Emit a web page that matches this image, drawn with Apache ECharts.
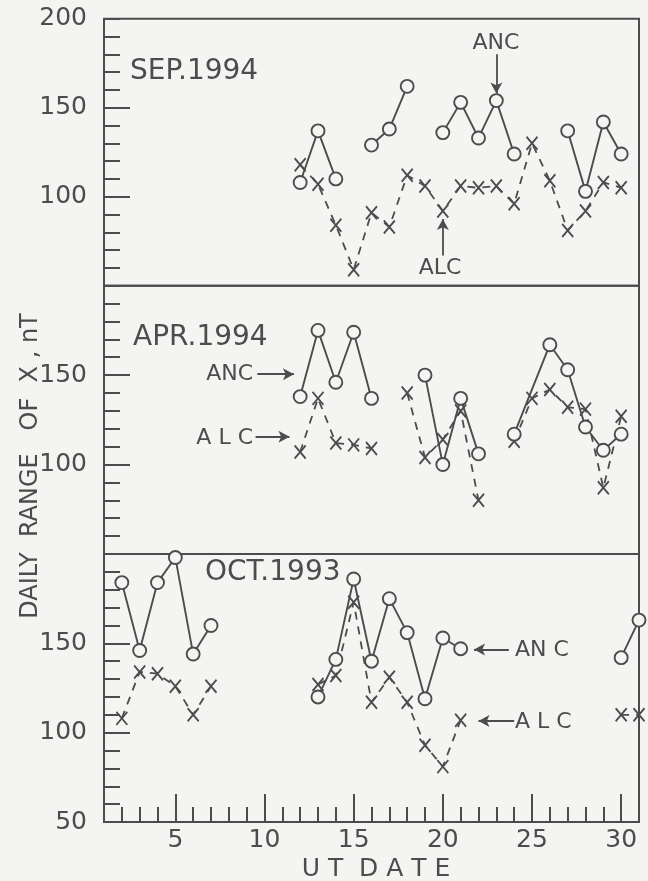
<!DOCTYPE html>
<html>
<head>
<meta charset="utf-8">
<script src="https://cdn.jsdelivr.net/npm/echarts@6/dist/echarts.min.js"></script>
<style>
html,body{margin:0;padding:0;background:#f4f4f2;}
#chart{width:648px;height:881px;}
</style>
</head>
<body>
<div id="chart"></div>
<script>
// ---- data (UT day, daily range of X in nT); null = break in the curve ----
const sepAncDays = [12,13,14,15,16,17,18,19,20,21,22,23,24,25,27,28,29,30];
const sepAncVals = [108,137,110,null,129,138,162,null,136,153,133,154,124,null,137,103,142,124];
const sepAlcDays = [12,13,14,15,16,17,18,19,20,21,22,23,24,25,26,27,28,29,30];
const sepAlcVals = [118,107,84,59,91,83,112,106,92,106,105,106,96,130,109,81,92,108,105];

const aprAncDays = [12,13,14,15,16,17,19,20,21,22,23,24,26,27,28,29,30];
const aprAncVals = [138,175,146,174,137,null,150,100,137,106,null,117,167,153,121,108,117];
const aprAlcDays = [12,13,14,15,16,17,18,19,20,21,22,23,24,25,26,27,28,29,30];
const aprAlcVals = [107,137,112,111,109,null,140,104,114,130,80,null,113,137,142,132,131,87,127];

const octAncDays = [2,3,4,5,6,7,8,13,14,15,16,17,18,19,20,21,22,30,31];
const octAncVals = [184,146,184,198,144,160,null,120,141,186,140,175,156,119,153,147,null,142,163];
const octAlcDays = [2,3,4,5,6,7,8,13,14,15,16,17,18,19,20,21,22,30,31];
const octAlcVals = [108,134,133,126,110,126,null,127,132,173,117,131,117,93,81,107,null,110,110];

const panelTitles = ['SEP.1994','APR.1994','OCT.1993'];
const yLabelValues = [[100,150,200],[100,150],[50,100,150]];
const yMajorTicks = [100,150];
const xLabelValues = [5,10,15,20,25,30];

// ---- styling ----
const ink = '#4c4c4c';
const bg = '#f4f4f2';
const FONT = 'DejaVu Sans';

function pts(days, vals){ return days.map((d,i)=>[d, vals[i]==null ? '-' : vals[i]]); }

const grids = [
  {left:104, right:9, top:18.7, height:267},
  {left:104, right:9, top:285.7, height:268.3},
  {left:104, right:9, top:554, height:268}
].map(g=>Object.assign(g,{show:true, borderColor:ink, borderWidth:2, backgroundColor:'transparent'}));

const xAxes = [
  {gridIndex:0, type:'value', min:1, max:31, show:false},
  {gridIndex:1, type:'value', min:1, max:31, show:false},
  {gridIndex:2, type:'value', min:1, max:31, interval:1, position:'bottom',
   axisLine:{show:false}, splitLine:{show:false},
   axisTick:{inside:true, length:15, lineStyle:{color:ink, width:2}},
   axisLabel:{show:false}},
  {gridIndex:2, type:'value', min:1, max:31, position:'bottom',
   axisLine:{show:false}, splitLine:{show:false},
   axisTick:{inside:true, length:28, customValues:xLabelValues, lineStyle:{color:ink, width:2}},
   axisLabel:{customValues:xLabelValues, color:ink, fontSize:25, fontFamily:FONT, margin:6}}
];

const yAxes = [];
for (let p=0;p<3;p++){
  yAxes.push({gridIndex:p, type:'value', min:50, max:200, interval:10, position:'left',
    axisLine:{show:false}, splitLine:{show:false},
    axisTick:{inside:true, length:16, lineStyle:{color:ink, width:2}},
    axisLabel:{show:false}});
  yAxes.push({gridIndex:p, type:'value', min:50, max:200, position:'left',
    axisLine:{show:false}, splitLine:{show:false},
    axisTick:{inside:true, length:26, customValues:yMajorTicks, lineStyle:{color:ink, width:2}},
    axisLabel:{customValues:yLabelValues[p], color:ink, fontSize:25, fontFamily:FONT, margin:17}});
}

function anc(xi, yi, days, vals, arrows){
  const s = {type:'line', xAxisIndex:xi, yAxisIndex:yi, data:pts(days,vals),
    symbol:'circle', symbolSize:13, showAllSymbol:true, connectNulls:false, z:4,
    lineStyle:{color:ink, width:1.9},
    itemStyle:{color:bg, borderColor:ink, borderWidth:1.9},
    emphasis:{disabled:true}, silent:true};
  if (arrows) s.markLine = arrowML(arrows);
  return s;
}
function alc(xi, yi, days, vals, arrows){
  const s = {type:'line', xAxisIndex:xi, yAxisIndex:yi, data:pts(days,vals),
    symbol:'path://M0,0L10,12M10,0L0,12', symbolSize:[11,13], showAllSymbol:true, connectNulls:false, z:3,
    lineStyle:{color:ink, width:1.8, type:[8,7]},
    itemStyle:{color:'rgba(0,0,0,0)', borderColor:ink, borderWidth:1.9},
    emphasis:{disabled:true}, silent:true};
  if (arrows) s.markLine = arrowML(arrows);
  return s;
}
function arrowML(list){
  return {silent:true, symbol:['none','arrow'], symbolSize:[9,11], animation:false,
    lineStyle:{color:ink, width:1.8, type:'solid'}, label:{show:false},
    data:list.map(a=>[{coord:a[0]},{coord:a[1]}])};
}

const series = [
  anc(0,0,sepAncDays,sepAncVals,[[[23,180],[23,158]]]),
  alc(0,0,sepAlcDays,sepAlcVals,[[[20,67],[20,87.5]]]),
  anc(1,2,aprAncDays,aprAncVals,[[[9.6,150.5],[11.65,150.5]]]),
  alc(1,2,aprAlcDays,aprAlcVals,[[[9.5,115.5],[11.4,115.5]]]),
  anc(2,4,octAncDays,octAncVals,[[[23.7,146.5],[21.75,146.5]]]),
  alc(2,4,octAlcDays,octAlcVals,[[[24.0,106.5],[22.0,106.5]]])
];

function txt(x,y,text,size,align,rot){
  return {type:'text', x:x, y:y, rotation:rot||0, silent:true, z:10,
    style:{text:text, fontSize:size, fontFamily:FONT, fill:ink, align:align||'left', verticalAlign:'middle'}};
}

const graphics = [
  txt(130,72,panelTitles[0],28),
  txt(133,338,panelTitles[1],28),
  txt(205,573,panelTitles[2],28),
  txt(496,43,'ANC',22,'center'),
  txt(440,268,'ALC',22,'center'),
  txt(253,374,'ANC',22,'right'),
  txt(253,438,'A L C',22,'right'),
  txt(515,650,'AN C',22,'left'),
  txt(515,722,'A L C',22,'left'),
  txt(376,869,'U T  D A T E',25,'center'),
  txt(31,466,'DAILY  RANGE   OF  X , nT',24,'center',Math.PI/2)
];

const chart = echarts.init(document.getElementById('chart'), null, {renderer:'canvas'});
chart.setOption({
  backgroundColor: bg,
  animation:false,
  grid: grids,
  xAxis: xAxes,
  yAxis: yAxes,
  series: series,
  graphic: graphics
});
</script>
</body>
</html>
